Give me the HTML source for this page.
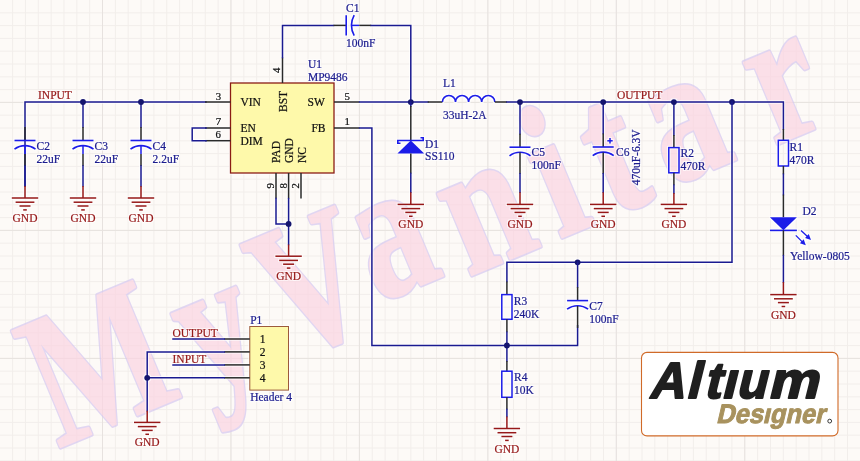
<!DOCTYPE html>
<html><head><meta charset="utf-8"><title>MP9486 schematic</title>
<style>
html,body{margin:0;padding:0;background:#fdfaf7;}
body{width:860px;height:461px;overflow:hidden;font-family:"Liberation Serif",serif;}
svg{display:block;filter:blur(0.3px);}
</style></head>
<body>
<svg width="860" height="461" viewBox="0 0 860 461" font-family="Liberation Serif, serif">
<rect width="860" height="461" fill="#fdfaf7"/>
<path d="M12.6,0V461M25.45,0V461M38.29,0V461M51.14,0V461M63.98,0V461M76.83,0V461M89.67,0V461M102.52,0V461M115.36,0V461M128.21,0V461M141.05,0V461M153.9,0V461M166.74,0V461M179.59,0V461M192.43,0V461M205.28,0V461M218.12,0V461M230.97,0V461M243.81,0V461M256.66,0V461M269.5,0V461M282.35,0V461M295.19,0V461M308.04,0V461M320.88,0V461M333.73,0V461M346.57,0V461M359.42,0V461M372.26,0V461M385.11,0V461M397.95,0V461M410.8,0V461M423.64,0V461M436.49,0V461M449.33,0V461M462.18,0V461M475.02,0V461M487.87,0V461M500.71,0V461M513.56,0V461M526.4,0V461M539.25,0V461M552.09,0V461M564.94,0V461M577.78,0V461M590.62,0V461M603.47,0V461M616.32,0V461M629.16,0V461M642,0V461M654.85,0V461M667.7,0V461M680.54,0V461M693.38,0V461M706.23,0V461M719.08,0V461M731.92,0V461M744.76,0V461M757.61,0V461M770.46,0V461M783.3,0V461M796.14,0V461M808.99,0V461M821.84,0V461M834.68,0V461M847.53,0V461M0,12.8H860M0,25.6H860M0,38.4H860M0,51.2H860M0,64H860M0,76.8H860M0,89.6H860M0,102.4H860M0,115.2H860M0,128H860M0,140.8H860M0,153.6H860M0,166.4H860M0,179.2H860M0,192H860M0,204.8H860M0,217.6H860M0,230.4H860M0,243.2H860M0,256H860M0,268.8H860M0,281.6H860M0,294.4H860M0,307.2H860M0,320H860M0,332.8H860M0,345.6H860M0,358.4H860M0,371.2H860M0,384H860M0,396.8H860M0,409.6H860M0,422.4H860M0,435.2H860M0,448H860M0,460.8H860" stroke="#f2eeeb" stroke-width="1" fill="none"/>
<path d="M102.5,0V461M230.95,0V461M359.4,0V461M487.85,0V461M616.3,0V461M744.75,0V461M0,102.4H860M0,230.4H860M0,358.4H860" stroke="#e7e2df" stroke-width="1" fill="none"/>
<g opacity="0.7"><text x="0" y="0" dx="0 0 0 -3.5 3.5 0 0 0 27" dy="0 8 1 -19.5 10.5 0 0 -5 2" transform="translate(57.9,448.3) rotate(-22.7) scale(0.76,1)" font-size="192" font-weight="bold" letter-spacing="22.7" fill="#fbd4e2" stroke="#d6c8f0" stroke-width="5" stroke-linejoin="round">MyVanitar</text><text x="0" y="0" dx="0 0 0 -3.5 3.5 0 0 0 27" dy="0 8 1 -19.5 10.5 0 0 -5 2" transform="translate(57.9,448.3) rotate(-22.7) scale(0.76,1)" font-size="192" font-weight="bold" letter-spacing="22.7" fill="#fbd4e2" stroke="#fbd4e2" stroke-width="1.6" stroke-linejoin="round">MyVanitar</text></g>
<defs><filter id="halo" x="-2%" y="-2%" width="104%" height="104%" color-interpolation-filters="sRGB"><feMorphology in="SourceAlpha" operator="dilate" radius="1.4" result="d"/><feGaussianBlur in="d" stdDeviation="0.7" result="db"/><feFlood flood-color="#ffffff" flood-opacity="0.75"/><feComposite in2="db" operator="in" result="w"/><feMerge><feMergeNode in="w"/><feMergeNode in="SourceGraphic"/></feMerge></filter></defs>
<g filter="url(#halo)">
<polyline points="25,186 25,127 25,102 206,102" fill="none" stroke="#1a1a90" stroke-width="1.5" stroke-linejoin="miter" stroke-linecap="square"/>
<polyline points="83,102 83,127" fill="none" stroke="#1a1a90" stroke-width="1.5" stroke-linejoin="miter" stroke-linecap="square"/>
<polyline points="141,102 141,127" fill="none" stroke="#1a1a90" stroke-width="1.5" stroke-linejoin="miter" stroke-linecap="square"/>
<line x1="25" y1="127" x2="25" y2="140.5" stroke="#2a2a2a" stroke-width="1.5"/>
<line x1="14.5" y1="140.5" x2="35.5" y2="140.5" stroke="#1c1ce8" stroke-width="1.6"/>
<path d="M14.5,149.1 A17.5,17.5 0 0 1 35.5,149.1" fill="none" stroke="#1c1ce8" stroke-width="1.6"/>
<line x1="25" y1="145.9" x2="25" y2="154.1" stroke="#1c1ce8" stroke-width="1.5"/>
<line x1="25" y1="154.1" x2="25" y2="166.1" stroke="#2a2a2a" stroke-width="1.5"/>
<polyline points="25,166.1 25,186" fill="none" stroke="#1a1a90" stroke-width="1.5" stroke-linejoin="miter" stroke-linecap="square"/>
<line x1="25" y1="186" x2="25" y2="198" stroke="#961818" stroke-width="1.5"/>
<line x1="11.8" y1="198" x2="38.2" y2="198" stroke="#961818" stroke-width="1.5"/>
<line x1="15.6" y1="202.2" x2="34.4" y2="202.2" stroke="#961818" stroke-width="1.5"/>
<line x1="19.5" y1="206" x2="30.5" y2="206" stroke="#961818" stroke-width="1.5"/>
<line x1="23.2" y1="209.9" x2="26.8" y2="209.9" stroke="#961818" stroke-width="1.5"/>
<text x="25" y="222" fill="#961818" stroke="#961818" stroke-width="0.22" font-size="11.5" text-anchor="middle">GND</text>
<line x1="83" y1="127" x2="83" y2="140.5" stroke="#2a2a2a" stroke-width="1.5"/>
<line x1="72.5" y1="140.5" x2="93.5" y2="140.5" stroke="#1c1ce8" stroke-width="1.6"/>
<path d="M72.5,149.1 A17.5,17.5 0 0 1 93.5,149.1" fill="none" stroke="#1c1ce8" stroke-width="1.6"/>
<line x1="83" y1="145.9" x2="83" y2="154.1" stroke="#1c1ce8" stroke-width="1.5"/>
<line x1="83" y1="154.1" x2="83" y2="166.1" stroke="#2a2a2a" stroke-width="1.5"/>
<polyline points="83,166.1 83,186" fill="none" stroke="#1a1a90" stroke-width="1.5" stroke-linejoin="miter" stroke-linecap="square"/>
<line x1="83" y1="186" x2="83" y2="198" stroke="#961818" stroke-width="1.5"/>
<line x1="69.8" y1="198" x2="96.2" y2="198" stroke="#961818" stroke-width="1.5"/>
<line x1="73.6" y1="202.2" x2="92.4" y2="202.2" stroke="#961818" stroke-width="1.5"/>
<line x1="77.5" y1="206" x2="88.5" y2="206" stroke="#961818" stroke-width="1.5"/>
<line x1="81.2" y1="209.9" x2="84.8" y2="209.9" stroke="#961818" stroke-width="1.5"/>
<text x="83" y="222" fill="#961818" stroke="#961818" stroke-width="0.22" font-size="11.5" text-anchor="middle">GND</text>
<line x1="141" y1="127" x2="141" y2="140.5" stroke="#2a2a2a" stroke-width="1.5"/>
<line x1="130.5" y1="140.5" x2="151.5" y2="140.5" stroke="#1c1ce8" stroke-width="1.6"/>
<path d="M130.5,149.1 A17.5,17.5 0 0 1 151.5,149.1" fill="none" stroke="#1c1ce8" stroke-width="1.6"/>
<line x1="141" y1="145.9" x2="141" y2="154.1" stroke="#1c1ce8" stroke-width="1.5"/>
<line x1="141" y1="154.1" x2="141" y2="166.1" stroke="#2a2a2a" stroke-width="1.5"/>
<polyline points="141,166.1 141,186" fill="none" stroke="#1a1a90" stroke-width="1.5" stroke-linejoin="miter" stroke-linecap="square"/>
<line x1="141" y1="186" x2="141" y2="198" stroke="#961818" stroke-width="1.5"/>
<line x1="127.8" y1="198" x2="154.2" y2="198" stroke="#961818" stroke-width="1.5"/>
<line x1="131.6" y1="202.2" x2="150.4" y2="202.2" stroke="#961818" stroke-width="1.5"/>
<line x1="135.5" y1="206" x2="146.5" y2="206" stroke="#961818" stroke-width="1.5"/>
<line x1="139.2" y1="209.9" x2="142.8" y2="209.9" stroke="#961818" stroke-width="1.5"/>
<text x="141" y="222" fill="#961818" stroke="#961818" stroke-width="0.22" font-size="11.5" text-anchor="middle">GND</text>
<circle cx="83" cy="102" r="2.9" fill="#15156e"/>
<circle cx="141" cy="102" r="2.9" fill="#15156e"/>
<text x="38" y="98.5" fill="#961818" stroke="#961818" stroke-width="0.22" font-size="11.5">INPUT</text>
<text x="36.5" y="150" fill="#1c1c8e" stroke="#1c1c8e" stroke-width="0.22" font-size="11.5">C2</text>
<text x="36.5" y="163" fill="#1c1c8e" stroke="#1c1c8e" stroke-width="0.22" font-size="11.5">22uF</text>
<text x="94.5" y="150" fill="#1c1c8e" stroke="#1c1c8e" stroke-width="0.22" font-size="11.5">C3</text>
<text x="94.5" y="163" fill="#1c1c8e" stroke="#1c1c8e" stroke-width="0.22" font-size="11.5">22uF</text>
<text x="152.5" y="150" fill="#1c1c8e" stroke="#1c1c8e" stroke-width="0.22" font-size="11.5">C4</text>
<text x="152.5" y="163" fill="#1c1c8e" stroke="#1c1c8e" stroke-width="0.22" font-size="11.5">2.2uF</text>
<rect x="230.5" y="83" width="103.5" height="90" fill="#fef9aa" stroke="#8a1c14" stroke-width="1.3"/>
<line x1="205" y1="102" x2="230.5" y2="102" stroke="#2a2a2a" stroke-width="1.5"/>
<line x1="205" y1="128" x2="230.5" y2="128" stroke="#2a2a2a" stroke-width="1.5"/>
<line x1="205" y1="140.7" x2="230.5" y2="140.7" stroke="#2a2a2a" stroke-width="1.5"/>
<polyline points="206,128 192.2,128 192.2,140.7 206,140.7" fill="none" stroke="#1a1a90" stroke-width="1.5" stroke-linejoin="miter" stroke-linecap="square"/>
<line x1="282.5" y1="57.5" x2="282.5" y2="83" stroke="#2a2a2a" stroke-width="1.5"/>
<line x1="334" y1="102" x2="359.6" y2="102" stroke="#2a2a2a" stroke-width="1.5"/>
<line x1="334" y1="128" x2="359.6" y2="128" stroke="#2a2a2a" stroke-width="1.5"/>
<line x1="276" y1="173" x2="276" y2="198.6" stroke="#2a2a2a" stroke-width="1.5"/>
<line x1="288.6" y1="173" x2="288.6" y2="198.6" stroke="#2a2a2a" stroke-width="1.5"/>
<line x1="301" y1="173" x2="301" y2="198.6" stroke="#2a2a2a" stroke-width="1.5"/>
<text x="215.8" y="99.8" fill="#111111" stroke="#111111" stroke-width="0.22" font-size="10.8">3</text>
<text x="215.8" y="125.3" fill="#111111" stroke="#111111" stroke-width="0.22" font-size="10.8">7</text>
<text x="215.6" y="138.2" fill="#111111" stroke="#111111" stroke-width="0.22" font-size="10.8">6</text>
<text x="344.6" y="99.6" fill="#111111" stroke="#111111" stroke-width="0.22" font-size="10.8">5</text>
<text x="344.6" y="125.2" fill="#111111" stroke="#111111" stroke-width="0.22" font-size="10.8">1</text>
<text x="280" y="73" fill="#111111" stroke="#111111" stroke-width="0.22" font-size="10.8" transform="rotate(-90 280 73)">4</text>
<text x="274" y="188.6" fill="#111111" stroke="#111111" stroke-width="0.22" font-size="10.8" transform="rotate(-90 274 188.6)">9</text>
<text x="286.6" y="188.6" fill="#111111" stroke="#111111" stroke-width="0.22" font-size="10.8" transform="rotate(-90 286.6 188.6)">8</text>
<text x="299.2" y="188.6" fill="#111111" stroke="#111111" stroke-width="0.22" font-size="10.8" transform="rotate(-90 299.2 188.6)">2</text>
<text x="240.4" y="106.3" fill="#111111" stroke="#111111" stroke-width="0.22" font-size="11.5">VIN</text>
<text x="240.4" y="132.4" fill="#111111" stroke="#111111" stroke-width="0.22" font-size="11.5">EN</text>
<text x="240.4" y="145.4" fill="#111111" stroke="#111111" stroke-width="0.22" font-size="11.5">DIM</text>
<text x="307.5" y="106.3" fill="#111111" stroke="#111111" stroke-width="0.22" font-size="11.5">SW</text>
<text x="311.4" y="132.4" fill="#111111" stroke="#111111" stroke-width="0.22" font-size="11.5">FB</text>
<text x="287" y="112" fill="#111111" stroke="#111111" stroke-width="0.22" font-size="11.5" transform="rotate(-90 287 112)">BST</text>
<text x="280" y="163" fill="#111111" stroke="#111111" stroke-width="0.22" font-size="11.5" transform="rotate(-90 280 163)">PAD</text>
<text x="293" y="163" fill="#111111" stroke="#111111" stroke-width="0.22" font-size="11.5" transform="rotate(-90 293 163)">GND</text>
<text x="305.5" y="163" fill="#111111" stroke="#111111" stroke-width="0.22" font-size="11.5" transform="rotate(-90 305.5 163)">NC</text>
<text x="308" y="68.4" fill="#1c1c8e" stroke="#1c1c8e" stroke-width="0.22" font-size="11.5">U1</text>
<text x="308" y="80.5" fill="#1c1c8e" stroke="#1c1c8e" stroke-width="0.22" font-size="11.5">MP9486</text>
<polyline points="276,198.6 276,223.9 288.6,223.9" fill="none" stroke="#1a1a90" stroke-width="1.5" stroke-linejoin="miter" stroke-linecap="square"/>
<polyline points="288.6,198.6 288.6,244.5" fill="none" stroke="#1a1a90" stroke-width="1.5" stroke-linejoin="miter" stroke-linecap="square"/>
<circle cx="288.6" cy="223.9" r="2.9" fill="#15156e"/>
<line x1="288.6" y1="244.5" x2="288.6" y2="256.2" stroke="#961818" stroke-width="1.5"/>
<line x1="275.4" y1="256.2" x2="301.8" y2="256.2" stroke="#961818" stroke-width="1.5"/>
<line x1="279.2" y1="260.4" x2="298" y2="260.4" stroke="#961818" stroke-width="1.5"/>
<line x1="283.1" y1="264.2" x2="294.1" y2="264.2" stroke="#961818" stroke-width="1.5"/>
<line x1="286.8" y1="268.1" x2="290.4" y2="268.1" stroke="#961818" stroke-width="1.5"/>
<text x="288.6" y="280.2" fill="#961818" stroke="#961818" stroke-width="0.22" font-size="11.5" text-anchor="middle">GND</text>
<polyline points="282.5,57.5 282.5,25.4 333.5,25.4" fill="none" stroke="#1a1a90" stroke-width="1.5" stroke-linejoin="miter" stroke-linecap="square"/>
<line x1="333.5" y1="25.4" x2="346" y2="25.4" stroke="#2a2a2a" stroke-width="1.5"/>
<line x1="346.2" y1="15.2" x2="346.2" y2="35.6" stroke="#1c1ce8" stroke-width="1.6"/>
<path d="M354.2,15.2 Q348.6,25.4 354.2,35.6" fill="none" stroke="#1c1ce8" stroke-width="1.6"/>
<line x1="351.2" y1="25.4" x2="359.2" y2="25.4" stroke="#1c1ce8" stroke-width="1.5"/>
<line x1="359.2" y1="25.4" x2="371.2" y2="25.4" stroke="#2a2a2a" stroke-width="1.5"/>
<polyline points="371.2,25.4 410.8,25.4 410.8,102" fill="none" stroke="#1a1a90" stroke-width="1.5" stroke-linejoin="miter" stroke-linecap="square"/>
<text x="346" y="11.8" fill="#1c1c8e" stroke="#1c1c8e" stroke-width="0.22" font-size="11.5">C1</text>
<text x="346" y="47" fill="#1c1c8e" stroke="#1c1c8e" stroke-width="0.22" font-size="11.5">100nF</text>
<polyline points="359.6,102 428,102" fill="none" stroke="#1a1a90" stroke-width="1.5" stroke-linejoin="miter" stroke-linecap="square"/>
<circle cx="410.8" cy="102.1" r="2.9" fill="#15156e"/>
<polyline points="410.8,102 410.8,106" fill="none" stroke="#1a1a90" stroke-width="1.5" stroke-linejoin="miter" stroke-linecap="square"/>
<line x1="410.8" y1="106" x2="410.8" y2="140.5" stroke="#2a2a2a" stroke-width="1.5"/>
<path d="M410.8,140.5 L397.4,153.6 L424.2,153.6 Z" fill="#1c1ce8"/>
<path d="M400.5,143.3 L397.8,143.3 L397.8,140.5 L423.2,140.5 L423.2,137.8 L420.5,137.8" fill="none" stroke="#1c1ce8" stroke-width="1.6"/>
<line x1="410.8" y1="153.6" x2="410.8" y2="173.4" stroke="#2a2a2a" stroke-width="1.5"/>
<polyline points="410.8,173.4 410.8,192.3" fill="none" stroke="#1a1a90" stroke-width="1.5" stroke-linejoin="miter" stroke-linecap="square"/>
<line x1="410.8" y1="192.3" x2="410.8" y2="204.4" stroke="#961818" stroke-width="1.5"/>
<line x1="397.6" y1="204.4" x2="424" y2="204.4" stroke="#961818" stroke-width="1.5"/>
<line x1="401.4" y1="208.6" x2="420.2" y2="208.6" stroke="#961818" stroke-width="1.5"/>
<line x1="405.3" y1="212.4" x2="416.3" y2="212.4" stroke="#961818" stroke-width="1.5"/>
<line x1="409" y1="216.3" x2="412.6" y2="216.3" stroke="#961818" stroke-width="1.5"/>
<text x="410.8" y="228.4" fill="#961818" stroke="#961818" stroke-width="0.22" font-size="11.5" text-anchor="middle">GND</text>
<text x="425" y="147.7" fill="#1c1c8e" stroke="#1c1c8e" stroke-width="0.22" font-size="11.5">D1</text>
<text x="425" y="160.2" fill="#1c1c8e" stroke="#1c1c8e" stroke-width="0.22" font-size="11.5">SS110</text>
<line x1="427.7" y1="102" x2="442.4" y2="102" stroke="#2a2a2a" stroke-width="1.5"/>
<path d="M442.4,102 a6.55,6.55 0 0 1 13.1,0 a6.55,6.55 0 0 1 13.1,0 a6.55,6.55 0 0 1 13.1,0 a6.55,6.55 0 0 1 13.1,0" fill="none" stroke="#1c1ce8" stroke-width="1.6"/>
<line x1="494.8" y1="102" x2="507" y2="102" stroke="#2a2a2a" stroke-width="1.5"/>
<text x="443" y="87.2" fill="#1c1c8e" stroke="#1c1c8e" stroke-width="0.22" font-size="11.5">L1</text>
<text x="443" y="119.3" fill="#1c1c8e" stroke="#1c1c8e" stroke-width="0.22" font-size="11.5">33uH-2A</text>
<polyline points="507,102 783.4,102 783.4,129" fill="none" stroke="#1a1a90" stroke-width="1.5" stroke-linejoin="miter" stroke-linecap="square"/>
<text x="617" y="99.4" fill="#961818" stroke="#961818" stroke-width="0.22" font-size="11.5">OUTPUT</text>
<polyline points="520,102 520,133.8" fill="none" stroke="#1a1a90" stroke-width="1.5" stroke-linejoin="miter" stroke-linecap="square"/>
<line x1="520" y1="133.8" x2="520" y2="147.2" stroke="#2a2a2a" stroke-width="1.5"/>
<line x1="509.5" y1="147.2" x2="530.5" y2="147.2" stroke="#1c1ce8" stroke-width="1.6"/>
<path d="M509.5,155.8 A17.5,17.5 0 0 1 530.5,155.8" fill="none" stroke="#1c1ce8" stroke-width="1.6"/>
<line x1="520" y1="152.6" x2="520" y2="173.7" stroke="#2a2a2a" stroke-width="1.5"/>
<polyline points="520,173.7 520,192.3" fill="none" stroke="#1a1a90" stroke-width="1.5" stroke-linejoin="miter" stroke-linecap="square"/>
<line x1="520" y1="192.3" x2="520" y2="204.4" stroke="#961818" stroke-width="1.5"/>
<line x1="506.8" y1="204.4" x2="533.2" y2="204.4" stroke="#961818" stroke-width="1.5"/>
<line x1="510.6" y1="208.6" x2="529.4" y2="208.6" stroke="#961818" stroke-width="1.5"/>
<line x1="514.5" y1="212.4" x2="525.5" y2="212.4" stroke="#961818" stroke-width="1.5"/>
<line x1="518.2" y1="216.3" x2="521.8" y2="216.3" stroke="#961818" stroke-width="1.5"/>
<text x="520" y="228.4" fill="#961818" stroke="#961818" stroke-width="0.22" font-size="11.5" text-anchor="middle">GND</text>
<circle cx="520" cy="102.1" r="2.9" fill="#15156e"/>
<text x="531.5" y="155.6" fill="#1c1c8e" stroke="#1c1c8e" stroke-width="0.22" font-size="11.5">C5</text>
<text x="531.5" y="168.9" fill="#1c1c8e" stroke="#1c1c8e" stroke-width="0.22" font-size="11.5">100nF</text>
<polyline points="603.2,102 603.2,133.6" fill="none" stroke="#1a1a90" stroke-width="1.5" stroke-linejoin="miter" stroke-linecap="square"/>
<line x1="603.2" y1="133.6" x2="603.2" y2="147" stroke="#2a2a2a" stroke-width="1.5"/>
<line x1="592.7" y1="147" x2="613.7" y2="147" stroke="#1c1ce8" stroke-width="1.6"/>
<path d="M592.7,155.6 A17.5,17.5 0 0 1 613.7,155.6" fill="none" stroke="#1c1ce8" stroke-width="1.6"/>
<line x1="603.2" y1="152.4" x2="603.2" y2="173.7" stroke="#2a2a2a" stroke-width="1.5"/>
<polyline points="603.2,173.7 603.2,192.3" fill="none" stroke="#1a1a90" stroke-width="1.5" stroke-linejoin="miter" stroke-linecap="square"/>
<line x1="603.2" y1="192.3" x2="603.2" y2="204.4" stroke="#961818" stroke-width="1.5"/>
<line x1="590" y1="204.4" x2="616.4" y2="204.4" stroke="#961818" stroke-width="1.5"/>
<line x1="593.8" y1="208.6" x2="612.6" y2="208.6" stroke="#961818" stroke-width="1.5"/>
<line x1="597.7" y1="212.4" x2="608.7" y2="212.4" stroke="#961818" stroke-width="1.5"/>
<line x1="601.4" y1="216.3" x2="605" y2="216.3" stroke="#961818" stroke-width="1.5"/>
<text x="603.2" y="228.4" fill="#961818" stroke="#961818" stroke-width="0.22" font-size="11.5" text-anchor="middle">GND</text>
<circle cx="603.2" cy="102.1" r="2.9" fill="#15156e"/>
<line x1="607.3" y1="140.8" x2="612.7" y2="140.8" stroke="#1c1ce8" stroke-width="1.5"/>
<line x1="610" y1="138.1" x2="610" y2="143.5" stroke="#1c1ce8" stroke-width="1.5"/>
<text x="616" y="156.1" fill="#1c1c8e" stroke="#1c1c8e" stroke-width="0.22" font-size="11.5">C6</text>
<text x="639.6" y="185.3" fill="#1c1c8e" stroke="#1c1c8e" stroke-width="0.22" font-size="11.5" transform="rotate(-90 639.6 185.3)">470uF-6.3V</text>
<polyline points="673.9,102 673.9,134.9" fill="none" stroke="#1a1a90" stroke-width="1.5" stroke-linejoin="miter" stroke-linecap="square"/>
<line x1="673.9" y1="134.9" x2="673.9" y2="147.6" stroke="#2a2a2a" stroke-width="1.5"/>
<rect x="668.8" y="147.6" width="10.2" height="25.2" fill="none" stroke="#1c1ce8" stroke-width="1.5"/>
<line x1="673.9" y1="172.8" x2="673.9" y2="185.3" stroke="#2a2a2a" stroke-width="1.5"/>
<polyline points="673.9,185.3 673.9,193" fill="none" stroke="#1a1a90" stroke-width="1.5" stroke-linejoin="miter" stroke-linecap="square"/>
<line x1="673.9" y1="193" x2="673.9" y2="204.4" stroke="#961818" stroke-width="1.5"/>
<line x1="660.7" y1="204.4" x2="687.1" y2="204.4" stroke="#961818" stroke-width="1.5"/>
<line x1="664.5" y1="208.6" x2="683.3" y2="208.6" stroke="#961818" stroke-width="1.5"/>
<line x1="668.4" y1="212.4" x2="679.4" y2="212.4" stroke="#961818" stroke-width="1.5"/>
<line x1="672.1" y1="216.3" x2="675.7" y2="216.3" stroke="#961818" stroke-width="1.5"/>
<text x="673.9" y="228.4" fill="#961818" stroke="#961818" stroke-width="0.22" font-size="11.5" text-anchor="middle">GND</text>
<circle cx="673.9" cy="102.1" r="2.9" fill="#15156e"/>
<text x="680.6" y="157.3" fill="#1c1c8e" stroke="#1c1c8e" stroke-width="0.22" font-size="11.5">R2</text>
<text x="680.6" y="170" fill="#1c1c8e" stroke="#1c1c8e" stroke-width="0.22" font-size="11.5">470R</text>
<circle cx="732" cy="102" r="2.9" fill="#15156e"/>
<polyline points="732,102 732,262.3 506.9,262.3 506.9,281.6" fill="none" stroke="#1a1a90" stroke-width="1.5" stroke-linejoin="miter" stroke-linecap="square"/>
<line x1="783.4" y1="129" x2="783.4" y2="140.3" stroke="#2a2a2a" stroke-width="1.5"/>
<rect x="778.3" y="140.3" width="10.2" height="25.7" fill="none" stroke="#1c1ce8" stroke-width="1.5"/>
<line x1="783.4" y1="166" x2="783.4" y2="174.3" stroke="#2a2a2a" stroke-width="1.5"/>
<polyline points="783.4,174.3 783.4,194.6" fill="none" stroke="#1a1a90" stroke-width="1.5" stroke-linejoin="miter" stroke-linecap="square"/>
<line x1="783.4" y1="194.6" x2="783.4" y2="217.3" stroke="#2a2a2a" stroke-width="1.5"/>
<path d="M769.9,217.3 L796.9,217.3 L783.4,230.2 Z" fill="#1c1ce8"/>
<line x1="769.9" y1="230.4" x2="796.9" y2="230.4" stroke="#1c1ce8" stroke-width="1.6"/>
<line x1="783.4" y1="230.4" x2="783.4" y2="255.6" stroke="#2a2a2a" stroke-width="1.5"/>
<polyline points="783.4,255.6 783.4,282" fill="none" stroke="#1a1a90" stroke-width="1.5" stroke-linejoin="miter" stroke-linecap="square"/>
<line x1="783.4" y1="282" x2="783.4" y2="294.6" stroke="#961818" stroke-width="1.5"/>
<line x1="770.2" y1="294.6" x2="796.6" y2="294.6" stroke="#961818" stroke-width="1.5"/>
<line x1="774" y1="298.8" x2="792.8" y2="298.8" stroke="#961818" stroke-width="1.5"/>
<line x1="777.9" y1="302.6" x2="788.9" y2="302.6" stroke="#961818" stroke-width="1.5"/>
<line x1="781.6" y1="306.5" x2="785.2" y2="306.5" stroke="#961818" stroke-width="1.5"/>
<text x="783.4" y="318.6" fill="#961818" stroke="#961818" stroke-width="0.22" font-size="11.5" text-anchor="middle">GND</text>
<text x="789.6" y="151.1" fill="#1c1c8e" stroke="#1c1c8e" stroke-width="0.22" font-size="11.5">R1</text>
<text x="789.6" y="163.7" fill="#1c1c8e" stroke="#1c1c8e" stroke-width="0.22" font-size="11.5">470R</text>
<text x="802.5" y="215.4" fill="#1c1c8e" stroke="#1c1c8e" stroke-width="0.22" font-size="11.5">D2</text>
<text x="790.1" y="259.7" fill="#1c1c8e" stroke="#1c1c8e" stroke-width="0.22" font-size="11.5">Yellow-0805</text>
<line x1="801" y1="230.6" x2="808" y2="237.1" stroke="#1c1ce8" stroke-width="1.3"/>
<path d="M811,239.9 L805.06,238.06 L808.74,234.11 Z" fill="#1c1ce8"/>
<line x1="795.8" y1="235.4" x2="802.8" y2="242.4" stroke="#1c1ce8" stroke-width="1.3"/>
<path d="M805.8,245.2 L799.91,243.21 L803.69,239.35 Z" fill="#1c1ce8"/>
<polyline points="359.6,128 371.9,128 371.9,345.5 577.6,345.5 577.6,325.8" fill="none" stroke="#1a1a90" stroke-width="1.5" stroke-linejoin="miter" stroke-linecap="square"/>
<line x1="506.9" y1="281.6" x2="506.9" y2="294.6" stroke="#2a2a2a" stroke-width="1.5"/>
<rect x="501.8" y="294.6" width="10.2" height="24.7" fill="none" stroke="#1c1ce8" stroke-width="1.5"/>
<line x1="506.9" y1="319.3" x2="506.9" y2="332.3" stroke="#2a2a2a" stroke-width="1.5"/>
<polyline points="506.9,332.3 506.9,361" fill="none" stroke="#1a1a90" stroke-width="1.5" stroke-linejoin="miter" stroke-linecap="square"/>
<circle cx="506.9" cy="345.5" r="2.9" fill="#15156e"/>
<text x="513.8" y="304.5" fill="#1c1c8e" stroke="#1c1c8e" stroke-width="0.22" font-size="11.5">R3</text>
<text x="513.8" y="318" fill="#1c1c8e" stroke="#1c1c8e" stroke-width="0.22" font-size="11.5">240K</text>
<circle cx="577.6" cy="262.3" r="2.9" fill="#15156e"/>
<polyline points="577.6,262.3 577.6,287.1" fill="none" stroke="#1a1a90" stroke-width="1.5" stroke-linejoin="miter" stroke-linecap="square"/>
<line x1="577.6" y1="287.1" x2="577.6" y2="300.6" stroke="#2a2a2a" stroke-width="1.5"/>
<line x1="567.1" y1="300.6" x2="588.1" y2="300.6" stroke="#1c1ce8" stroke-width="1.6"/>
<path d="M567.1,309.2 A17.5,17.5 0 0 1 588.1,309.2" fill="none" stroke="#1c1ce8" stroke-width="1.6"/>
<line x1="577.6" y1="306" x2="577.6" y2="328" stroke="#2a2a2a" stroke-width="1.5"/>
<text x="589.3" y="310.2" fill="#1c1c8e" stroke="#1c1c8e" stroke-width="0.22" font-size="11.5">C7</text>
<text x="589.3" y="323.2" fill="#1c1c8e" stroke="#1c1c8e" stroke-width="0.22" font-size="11.5">100nF</text>
<line x1="506.9" y1="361" x2="506.9" y2="371.2" stroke="#2a2a2a" stroke-width="1.5"/>
<rect x="501.8" y="371.2" width="10.2" height="26.1" fill="none" stroke="#1c1ce8" stroke-width="1.5"/>
<line x1="506.9" y1="397.3" x2="506.9" y2="409.5" stroke="#2a2a2a" stroke-width="1.5"/>
<polyline points="506.9,409.5 506.9,416.5" fill="none" stroke="#1a1a90" stroke-width="1.5" stroke-linejoin="miter" stroke-linecap="square"/>
<line x1="506.9" y1="416.5" x2="506.9" y2="428.5" stroke="#961818" stroke-width="1.5"/>
<line x1="493.7" y1="428.5" x2="520.1" y2="428.5" stroke="#961818" stroke-width="1.5"/>
<line x1="497.5" y1="432.7" x2="516.3" y2="432.7" stroke="#961818" stroke-width="1.5"/>
<line x1="501.4" y1="436.5" x2="512.4" y2="436.5" stroke="#961818" stroke-width="1.5"/>
<line x1="505.1" y1="440.4" x2="508.7" y2="440.4" stroke="#961818" stroke-width="1.5"/>
<text x="506.9" y="452.5" fill="#961818" stroke="#961818" stroke-width="0.22" font-size="11.5" text-anchor="middle">GND</text>
<text x="514" y="381.4" fill="#1c1c8e" stroke="#1c1c8e" stroke-width="0.22" font-size="11.5">R4</text>
<text x="514" y="394.3" fill="#1c1c8e" stroke="#1c1c8e" stroke-width="0.22" font-size="11.5">10K</text>
<rect x="249.8" y="326.5" width="38.7" height="63.6" fill="#fef9aa" stroke="#9c5a3c" stroke-width="1.0"/>
<line x1="224.3" y1="339" x2="249.8" y2="339" stroke="#2a2a2a" stroke-width="1.5"/>
<text x="259.8" y="343.2" fill="#111111" stroke="#111111" stroke-width="0.22" font-size="11.5">1</text>
<line x1="224.3" y1="351.9" x2="249.8" y2="351.9" stroke="#2a2a2a" stroke-width="1.5"/>
<text x="259.8" y="356.1" fill="#111111" stroke="#111111" stroke-width="0.22" font-size="11.5">2</text>
<line x1="224.3" y1="364.9" x2="249.8" y2="364.9" stroke="#2a2a2a" stroke-width="1.5"/>
<text x="259.8" y="369.1" fill="#111111" stroke="#111111" stroke-width="0.22" font-size="11.5">3</text>
<line x1="224.3" y1="377.8" x2="249.8" y2="377.8" stroke="#2a2a2a" stroke-width="1.5"/>
<text x="259.8" y="382" fill="#111111" stroke="#111111" stroke-width="0.22" font-size="11.5">4</text>
<text x="250.2" y="324" fill="#1c1c8e" stroke="#1c1c8e" stroke-width="0.22" font-size="11.5">P1</text>
<text x="250.2" y="401.2" fill="#1c1c8e" stroke="#1c1c8e" stroke-width="0.22" font-size="11.5">Header 4</text>
<polyline points="173,339 224.3,339" fill="none" stroke="#1a1a90" stroke-width="1.5" stroke-linejoin="miter" stroke-linecap="square"/>
<polyline points="173,364.9 224.3,364.9" fill="none" stroke="#1a1a90" stroke-width="1.5" stroke-linejoin="miter" stroke-linecap="square"/>
<polyline points="224.3,351.9 147.2,351.9 147.2,410.7" fill="none" stroke="#1a1a90" stroke-width="1.5" stroke-linejoin="miter" stroke-linecap="square"/>
<polyline points="147.2,377.8 224.3,377.8" fill="none" stroke="#1a1a90" stroke-width="1.5" stroke-linejoin="miter" stroke-linecap="square"/>
<circle cx="147.2" cy="377.8" r="2.9" fill="#15156e"/>
<line x1="147.2" y1="410.7" x2="147.2" y2="422.4" stroke="#961818" stroke-width="1.5"/>
<line x1="134" y1="422.4" x2="160.4" y2="422.4" stroke="#961818" stroke-width="1.5"/>
<line x1="137.8" y1="426.6" x2="156.6" y2="426.6" stroke="#961818" stroke-width="1.5"/>
<line x1="141.7" y1="430.4" x2="152.7" y2="430.4" stroke="#961818" stroke-width="1.5"/>
<line x1="145.4" y1="434.3" x2="149" y2="434.3" stroke="#961818" stroke-width="1.5"/>
<text x="147.2" y="446.4" fill="#961818" stroke="#961818" stroke-width="0.22" font-size="11.5" text-anchor="middle">GND</text>
<text x="172.5" y="336.8" fill="#961818" stroke="#961818" stroke-width="0.22" font-size="11.5">OUTPUT</text>
<text x="172.5" y="362.7" fill="#961818" stroke="#961818" stroke-width="0.22" font-size="11.5">INPUT</text>
</g>
<rect x="641.5" y="352.4" width="196.5" height="83.5" rx="5.5" ry="5.5" fill="#ffffff" stroke="#d06a28" stroke-width="1.1"/>
<text x="0" y="0" transform="translate(648.6,398.2) skewX(-14) scale(0.961,1)" font-family="Liberation Sans, sans-serif" font-weight="bold" font-size="51" fill="#1f1f1f" stroke="#1f1f1f" stroke-width="2" stroke-linejoin="round">A</text>
<text x="0" y="0" transform="translate(685.2,398.2) skewX(-14) scale(1.0,1)" font-family="Liberation Sans, sans-serif" font-weight="bold" font-size="51" fill="#1f1f1f" stroke="#1f1f1f" stroke-width="2" stroke-linejoin="round">l</text>
<text x="0" y="0" transform="translate(703.4,398.2) skewX(-14) scale(0.97,1)" font-family="Liberation Sans, sans-serif" font-weight="bold" font-size="51" fill="#1f1f1f" stroke="#1f1f1f" stroke-width="2" stroke-linejoin="round">t</text>
<text x="0" y="0" transform="translate(720.8,398.2) skewX(-14) scale(1.0,1)" font-family="Liberation Sans, sans-serif" font-weight="bold" font-size="51" fill="#1f1f1f" stroke="#1f1f1f" stroke-width="2" stroke-linejoin="round">ı</text>
<text x="0" y="0" transform="translate(735.5,398.2) skewX(-14) scale(0.97,1)" font-family="Liberation Sans, sans-serif" font-weight="bold" font-size="51" fill="#1f1f1f" stroke="#1f1f1f" stroke-width="2" stroke-linejoin="round">u</text>
<text x="0" y="0" transform="translate(767.3,398.2) skewX(-14) scale(1.11,1)" font-family="Liberation Sans, sans-serif" font-weight="bold" font-size="51" fill="#1f1f1f" stroke="#1f1f1f" stroke-width="2" stroke-linejoin="round">m</text>
<text x="0" y="0" transform="translate(716,422.7) skewX(-13) scale(0.94,1)" font-family="Liberation Sans, sans-serif" font-weight="bold" font-size="27" fill="#a8925e" stroke="#a8925e" stroke-width="1" stroke-linejoin="round">Desıgner</text>
<circle cx="829.7" cy="421.1" r="1.9" fill="none" stroke="#222" stroke-width="0.9"/>
</svg>
</body></html>
